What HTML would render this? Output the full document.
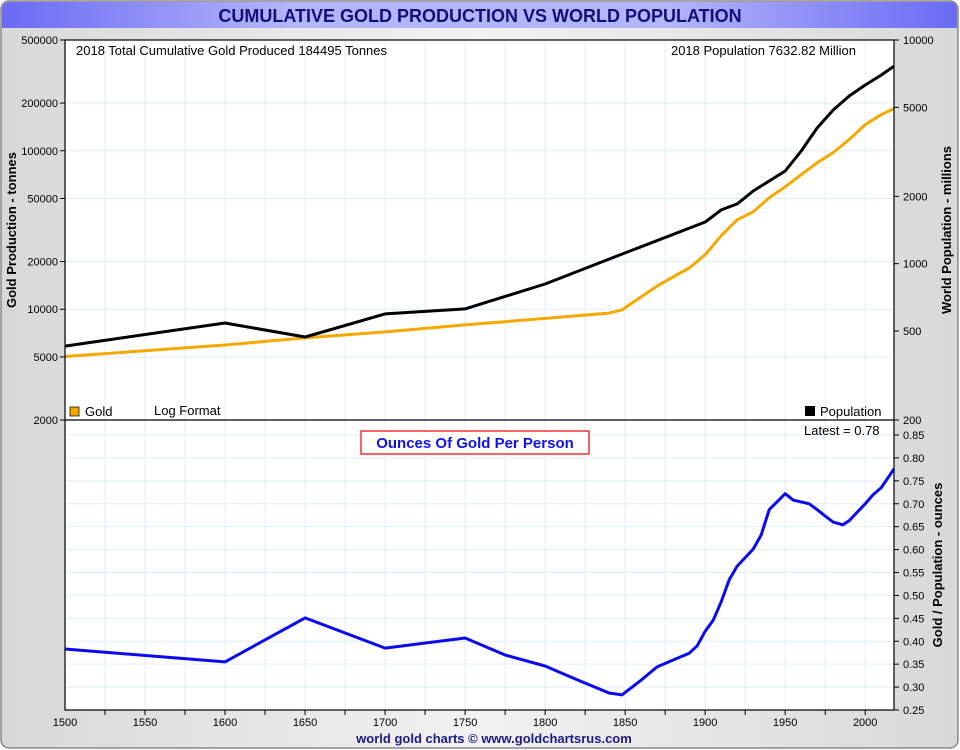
<!DOCTYPE html>
<html><head><meta charset="utf-8"><style>
html,body{margin:0;padding:0;background:#fff;}
svg{display:block;font-family:"Liberation Sans",sans-serif;}
</style></head><body>
<svg id="chart" width="960" height="750" viewBox="0 0 960 750">
<defs>
<linearGradient id="bg" x1="0" x2="1" y1="0" y2="0"><stop offset="0" stop-color="#d8d8d8"/><stop offset="0.5" stop-color="#f2f2f2"/><stop offset="1" stop-color="#d8d8d8"/></linearGradient>
<linearGradient id="tb" x1="0" x2="1" y1="0" y2="0"><stop offset="0" stop-color="#6a6af5"/><stop offset="0.3" stop-color="#b4b4fa"/><stop offset="0.7" stop-color="#b4b4fa"/><stop offset="1" stop-color="#6a6af5"/></linearGradient>
</defs>
<rect x="1" y="1" width="957" height="747" rx="8" fill="url(#bg)" stroke="#888" stroke-width="1.5"/>
<path d="M2,28 L2,10 Q2,2 10,2 L950,2 Q957,2 957,10 L957,28 Z" fill="url(#tb)"/>
<text x="480" y="22" text-anchor="middle" font-size="18" font-weight="bold" fill="#10107a">CUMULATIVE GOLD PRODUCTION VS WORLD POPULATION</text>
<rect x="65" y="40" width="829" height="670" fill="#fff"/>
<g id="grid"></g>
<g id="axes"></g>
<g id="series"></g>
<line x1="65" y1="420" x2="894" y2="420" stroke="#000" stroke-width="1.2"/>
<rect x="65" y="40" width="829" height="670" fill="none" stroke="#000" stroke-width="1.2"/>
<text x="76" y="55" font-size="13" fill="#000">2018 Total Cumulative Gold Produced 184495  Tonnes</text>
<text x="856" y="55" text-anchor="end" font-size="13" fill="#000">2018  Population 7632.82 Million</text>
<rect x="70" y="407" width="9" height="9" fill="#f5a800" stroke="#000" stroke-width="0.7"/>
<text x="85" y="416" font-size="13">Gold</text>
<text x="154" y="415" font-size="13">Log Format</text>
<rect x="805" y="406" width="10" height="10" fill="#000"/>
<text x="820" y="416" font-size="13">Population</text>
<text x="804" y="435" font-size="13">Latest = 0.78</text>
<rect x="361" y="431" width="228" height="23" fill="#fff" stroke="#e00" stroke-width="1.2"/>
<text x="475" y="448" text-anchor="middle" font-size="15" font-weight="bold" fill="#1010f0">Ounces Of Gold Per Person</text>
<text transform="translate(16,230) rotate(-90)" text-anchor="middle" font-size="13" font-weight="bold">Gold Production - tonnes</text>
<text transform="translate(951,230) rotate(-90)" text-anchor="middle" font-size="13" font-weight="bold">World Population - millions</text>
<text transform="translate(942,565) rotate(-90)" text-anchor="middle" font-size="13" font-weight="bold">Gold / Population - ounces</text>
<text x="494" y="743" text-anchor="middle" font-size="13" font-weight="bold" fill="#1a1a8a">world gold charts © www.goldchartsrus.com</text>
</svg>
<script>
const years=[1500,1600,1650,1700,1750,1800,1850,1900,1910,1920,1930,1950,1960,1970,1980,1990,2000,2010,2018];
const population=[428,543,470,596,628,811,1117,1536,1740,1850,2113,2596,3190,4045,4865,5620,6290,6970,7633];
const goldYears=[1500,1600,1650,1700,1750,1800,1840,1848,1860,1870,1880,1890,1900,1910,1920,1930,1940,1950,1960,1970,1980,1990,2000,2010,2018];
const gold=[5035,5950,6590,7190,7960,8750,9450,9900,11960,14000,16000,18200,22100,29100,36700,41200,50500,59200,70600,84100,97300,117800,146000,169000,184495];
const ozYears=[1500,1600,1650,1700,1750,1775,1800,1820,1840,1848,1860,1870,1880,1890,1895,1900,1905,1910,1915,1920,1930,1935,1940,1950,1955,1965,1970,1975,1980,1986,1990,2000,2005,2010,2018];
const ounces=[0.383,0.355,0.451,0.385,0.407,0.37,0.346,0.316,0.287,0.283,0.315,0.344,0.359,0.374,0.39,0.422,0.446,0.486,0.534,0.564,0.601,0.632,0.687,0.722,0.708,0.70,0.687,0.673,0.66,0.654,0.663,0.70,0.72,0.735,0.776];
const goldTicks=[500000,200000,100000,50000,20000,10000,5000,2000];
const popTicks=[10000,5000,2000,1000,500,200];
const ozTicks=[0.25,0.30,0.35,0.40,0.45,0.50,0.55,0.60,0.65,0.70,0.75,0.80,0.85];
const xTicks=[1500,1550,1600,1650,1700,1750,1800,1850,1900,1950,2000];

const NS='http://www.w3.org/2000/svg';
const X=y=>65+(y-1500)*(829/518);
const YG=v=>40+Math.log10(500000/v)*(380/Math.log10(250));
const YP=v=>40+Math.log10(10000/v)*(380/Math.log10(50));
const YO=v=>710-(v-0.25)*(275/0.6);
function mk(tag,attrs,parent){const e=document.createElementNS(NS,tag);for(const k in attrs)e.setAttribute(k,attrs[k]);parent.appendChild(e);return e;}
const grid=document.getElementById('grid'),axes=document.getElementById('axes'),ser=document.getElementById('series');
for(let yr=1525;yr<2018;yr+=25){
  const l=mk('line',{x1:X(yr),x2:X(yr),y1:40,y2:710,stroke:'#e2eef6','stroke-width':1},grid);
  
  
  const t=mk('line',{x1:X(yr),x2:X(yr),y1:710,y2:715,stroke:'#000'},axes);
  
  
}
goldTicks.forEach(v=>{
  const y=YG(v);
  const l=mk('line',{x1:65,x2:894,y1:y,y2:y,stroke:'#e2eef6'},grid);
  
  
  mk('line',{x1:60,x2:65,y1:y,y2:y,stroke:'#000'},axes);
  const t=mk('text',{x:58,y:y+4,'text-anchor':'end','font-size':11},axes);t.textContent=v;
  
  
});
popTicks.forEach(v=>{
  const y=YP(v);
  mk('line',{x1:894,x2:899,y1:y,y2:y,stroke:'#000'},axes);
  const t=mk('text',{x:903,y:y+4,'font-size':11},axes);t.textContent=v;
  
  
});
ozTicks.forEach(v=>{
  const y=YO(v);
  const l=mk('line',{x1:65,x2:894,y1:y,y2:y,stroke:'#e2eef6'},grid);
  
  
  mk('line',{x1:894,x2:899,y1:y,y2:y,stroke:'#000'},axes);
  const t=mk('text',{x:903,y:y+4,'font-size':11},axes);t.textContent=v.toFixed(2);
  
  
});
xTicks.forEach(v=>{
  const t=mk('text',{x:X(v),y:726,'text-anchor':'middle','font-size':11},axes);t.textContent=v;
  
  
});
function line(xs,vs,fy,color,name){
  const d=xs.map((x,i)=>(i?'L':'M')+X(x).toFixed(1)+','+fy(vs[i]).toFixed(1)).join(' ');
  const p=mk('path',{d:d,fill:'none',stroke:color,'stroke-width':3,'stroke-linejoin':'round'},ser);
  
  
}
line(goldYears,gold,YG,'#f5a800','gold-line');
line(years,population,YP,'#000','population-line');
line(ozYears,ounces,YO,'#0a0af0','ounces-line');
</script>
</body></html>
